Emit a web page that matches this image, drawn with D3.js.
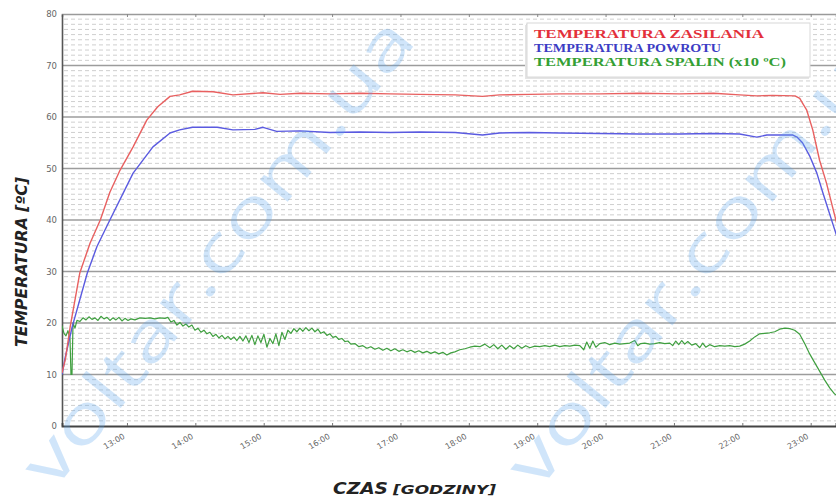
<!DOCTYPE html>
<html>
<head>
<meta charset="utf-8">
<script src="https://cdn.jsdelivr.net/npm/d3@7"></script>
<style>
  html, body { margin: 0; padding: 0; background: #fff; }
  svg { display: block; }
</style>
</head>
<body>
<svg id="chart" width="836" height="497"></svg>
<script>
// ---------------- DATA ----------------
// time in decimal hours, values in °C (flue gas in x10 °C)
const supplyHours = [12.05,12.10,12.17,12.31,12.46,12.61,12.75,12.90,13.09,13.29,13.45,13.63,13.77,13.96,14.26,14.55,14.99,15.24,15.53,15.97,16.41,16.85,17.28,17.80,18.20,18.45,18.89,19.33,19.92,20.50,21.08,21.58,21.96,22.21,22.44,22.77,22.84,22.88,22.94,23.03,23.13,23.23,23.32,23.50];
const supplyTemp  = [10.3,13.0,19.3,29.7,35.5,40.0,45.4,49.7,54.2,59.4,62.0,64.0,64.3,65.0,64.9,64.3,64.7,64.4,64.6,64.5,64.6,64.5,64.4,64.3,64.0,64.3,64.4,64.5,64.5,64.6,64.5,64.6,64.3,64.1,64.2,64.1,63.6,62.7,61.4,57.5,51.6,47.2,42.5,33.0];

const returnHours = [12.05,12.10,12.20,12.42,12.56,12.75,13.09,13.38,13.63,13.77,13.96,14.32,14.55,14.87,14.99,15.19,15.53,15.97,16.41,16.85,17.28,17.80,18.20,18.45,18.89,19.33,19.92,20.50,21.08,21.58,21.96,22.21,22.36,22.74,22.80,22.88,22.99,23.09,23.18,23.32,23.50];
const returnTemp  = [10.0,13.5,19.3,29.7,34.8,40.0,49.1,54.2,56.9,57.5,58.0,58.0,57.5,57.6,58.0,57.2,57.3,57.0,57.1,57.0,57.1,57.0,56.5,56.9,57.0,56.9,56.8,56.7,56.7,56.8,56.7,56.1,56.5,56.5,56.1,55.0,52.3,49.1,45.2,39.4,32.0];

const flueHours = [12.050,12.079,12.108,12.137,12.167,12.181,12.196,12.211,12.240,12.269,12.313,12.357,12.401,12.444,12.488,12.532,12.576,12.620,12.664,12.708,12.751,12.795,12.839,12.883,12.927,12.971,13.015,13.058,13.117,13.190,13.263,13.336,13.409,13.482,13.556,13.599,13.643,13.687,13.731,13.775,13.819,13.863,13.906,13.950,13.994,14.038,14.082,14.126,14.170,14.213,14.257,14.301,14.345,14.389,14.433,14.477,14.520,14.564,14.608,14.652,14.696,14.740,14.784,14.827,14.871,14.915,14.959,15.003,15.047,15.091,15.135,15.178,15.222,15.266,15.310,15.354,15.398,15.442,15.485,15.529,15.573,15.617,15.661,15.705,15.749,15.792,15.836,15.880,15.924,15.968,16.012,16.056,16.099,16.143,16.187,16.231,16.275,16.333,16.392,16.450,16.509,16.567,16.626,16.684,16.743,16.801,16.860,16.918,16.977,17.035,17.094,17.152,17.211,17.269,17.327,17.386,17.444,17.503,17.561,17.620,17.678,17.737,17.795,17.868,17.942,18.015,18.088,18.161,18.234,18.307,18.365,18.424,18.482,18.541,18.599,18.658,18.716,18.775,18.833,18.892,18.965,19.038,19.111,19.184,19.257,19.330,19.404,19.477,19.550,19.623,19.681,19.725,19.769,19.813,19.857,19.915,19.988,20.061,20.135,20.208,20.281,20.354,20.427,20.471,20.515,20.573,20.646,20.719,20.792,20.865,20.939,20.982,21.026,21.070,21.114,21.158,21.202,21.260,21.319,21.377,21.421,21.465,21.523,21.596,21.670,21.743,21.816,21.889,21.962,22.035,22.108,22.181,22.254,22.327,22.401,22.474,22.547,22.620,22.693,22.766,22.839,22.912,22.985,23.058,23.132,23.205,23.278,23.351,23.497];
const flueTemp  = [19.5,18.0,17.5,18.5,17.0,10.0,10.0,20.0,19.0,20.5,20.3,21.0,20.6,21.2,20.7,21.0,20.5,21.3,20.8,21.1,20.5,21.0,20.6,21.1,20.4,20.9,20.5,20.8,20.6,21.0,20.9,21.0,20.8,21.0,20.9,21.1,20.2,20.5,19.6,20.1,19.4,19.8,19.2,19.6,18.6,19.0,18.2,18.6,17.9,18.2,17.4,17.8,17.1,17.6,16.9,17.4,16.8,17.3,16.6,17.4,16.5,17.5,16.2,17.6,15.8,17.5,16.2,17.8,15.3,17.0,16.0,17.9,15.6,18.2,16.8,18.6,18.0,18.9,18.3,19.0,18.4,19.1,18.5,19.0,18.3,18.8,18.0,18.3,17.6,17.9,17.2,17.4,16.8,17.0,16.4,16.5,15.9,16.0,15.4,15.6,15.1,15.4,14.9,15.2,14.7,15.1,14.6,15.0,14.5,14.8,14.4,14.7,14.3,14.6,14.2,14.5,14.1,14.4,14.0,14.3,13.8,14.2,14.4,14.8,15.0,15.3,15.5,15.4,15.9,15.2,15.8,15.0,15.7,14.9,15.6,15.0,15.7,15.1,15.6,15.2,15.5,15.4,15.6,15.4,15.7,15.4,15.6,15.5,15.7,15.6,14.8,16.3,15.1,16.5,15.3,16.0,16.2,15.8,16.1,15.9,16.0,16.1,16.6,15.6,16.0,16.1,15.9,16.0,16.2,16.0,16.1,15.6,16.5,15.8,16.6,15.9,16.4,15.7,16.0,15.2,16.1,15.3,15.8,15.4,15.6,15.5,15.6,15.4,15.5,15.9,16.5,17.3,17.9,18.0,18.1,18.3,18.8,19.0,18.9,18.6,17.8,16.0,14.0,12.3,10.6,8.9,7.4,6.2,5.0];

const yTicks = [0,10,20,30,40,50,60,70,80];
const xTickHours  = [13,14,15,16,17,18,19,20,21,22,23];
const xTickLabels = ["13:00","14:00","15:00","16:00","17:00","18:00","19:00","20:00","21:00","22:00","23:00"];
const legendLabels = ["TEMPERATURA ZASILANIA","TEMPERATURA POWROTU","TEMPERATURA SPALIN (x10 ºC)"];
const yTitle = "TEMPERATURA [ºC]";
const xTitleMain = "CZAS";
const xTitleSub = "[GODZINY]";
const watermark = "voltar.com.ua";

// ---------------- LAYOUT ----------------
const W = 836, H = 497;
const L = 62, T = 14, B = 426;
const svg = d3.select("#chart");

const x = d3.scaleLinear().domain([12.05, 23.37]).range([L, W]);
const y = d3.scaleLinear().domain([0, 80]).range([B, T]);

svg.append("defs").append("clipPath").attr("id", "plotclip")
  .append("rect").attr("x", L).attr("y", T - 2).attr("width", W - L).attr("height", B - T + 2);

// minor dashed grid
const minor = d3.range(1, 80).filter(v => v % 10 !== 0);
svg.append("g").selectAll("line").data(minor).join("line")
  .attr("x1", L + 2).attr("x2", W).attr("y1", d => y(d)).attr("y2", d => y(d))
  .attr("stroke", "#cfcfcf").attr("stroke-width", 1).attr("stroke-dasharray", "4 3");

// major grid
svg.append("g").selectAll("line").data(yTicks.filter(v => v > 0 && v < 80)).join("line")
  .attr("x1", L).attr("x2", W).attr("y1", d => y(d)).attr("y2", d => y(d))
  .attr("stroke", "#9c9c9c").attr("stroke-width", 1.6);

// top axis (frame + ticks)
const topAxis = svg.append("g").attr("transform", `translate(0,${T})`)
  .call(d3.axisTop(x).tickValues(xTickHours).tickSize(-3).tickFormat(""));
topAxis.select(".domain").attr("stroke", "#9a9a9a").attr("stroke-width", 1.6);
topAxis.selectAll(".tick line").attr("stroke", "#888");

// y axis
const yAxis = svg.append("g").attr("transform", `translate(${L},0)`)
  .call(d3.axisLeft(y).tickValues(yTicks).tickSize(0).tickPadding(5));
yAxis.select(".domain").attr("stroke", "#555").attr("stroke-width", 1.6);
yAxis.selectAll("text").attr("fill", "#666").attr("font-size", "8.5px")
  .attr("font-family", "DejaVu Sans, sans-serif");

// x axis
const xAxis = svg.append("g").attr("transform", `translate(0,${B})`)
  .call(d3.axisBottom(x).tickValues(xTickHours).tickFormat((d, i) => xTickLabels[i]).tickSize(-3).tickPadding(0));
xAxis.select(".domain").attr("stroke", "#444").attr("stroke-width", 1.8);
xAxis.selectAll(".tick line").attr("stroke", "#777");
xAxis.selectAll("text")
  .attr("y", 0).attr("dy", 0).attr("x", 0)
  .attr("transform", "translate(-2,12) rotate(-30)")
  .attr("text-anchor", "end")
  .attr("fill", "#666").attr("font-size", "8px")
  .attr("font-family", "DejaVu Sans, sans-serif");

// data lines
const plot = svg.append("g").attr("clip-path", "url(#plotclip)");
function series(hours, vals) { return hours.map((h, i) => [h, vals[i]]); }
const line = d3.line().x(d => x(d[0])).y(d => y(d[1]));
plot.append("path").datum(series(flueHours, flueTemp)).attr("d", line)
  .attr("fill", "none").attr("stroke", "#3f9f3f").attr("stroke-width", 1.2).attr("stroke-linejoin", "round");
plot.append("path").datum(series(returnHours, returnTemp)).attr("d", line)
  .attr("fill", "none").attr("stroke", "#5a5ae0").attr("stroke-width", 1.4).attr("stroke-linejoin", "round");
plot.append("path").datum(series(supplyHours, supplyTemp)).attr("d", line)
  .attr("fill", "none").attr("stroke", "#e86060").attr("stroke-width", 1.4).attr("stroke-linejoin", "round");

// legend
const lg = svg.append("g");
lg.append("rect").attr("x", 525).attr("y", 25).attr("width", 284).attr("height", 54).attr("fill", "#e4e4e4");
lg.append("rect").attr("x", 527).attr("y", 23).attr("width", 283).attr("height", 54)
  .attr("fill", "#fff").attr("stroke", "#d8d8d8").attr("stroke-width", 1);
const legendColors = ["#e3303a", "#3c3cc4", "#34a034"];
const legendLens = [230, 187, 252];
lg.selectAll("text").data(legendLabels).join("text")
  .attr("x", 534).attr("y", (d, i) => 38 + i * 14)
  .attr("fill", (d, i) => legendColors[i])
  .attr("font-family", "Liberation Serif, DejaVu Serif, serif")
  .attr("font-weight", "bold").attr("font-size", "12px")
  .attr("textLength", (d, i) => legendLens[i]).attr("lengthAdjust", "spacingAndGlyphs")
  .text(d => d);

// axis titles
svg.append("text").attr("transform", "translate(27,262) rotate(-90)")
  .attr("text-anchor", "middle")
  .attr("font-family", "DejaVu Sans, sans-serif").attr("font-style", "italic").attr("font-weight", "bold")
  .attr("font-size", "15px").attr("fill", "#222")
  .attr("textLength", 170).attr("lengthAdjust", "spacingAndGlyphs")
  .text(yTitle);
svg.append("text").attr("x", 333).attr("y", 494)
  .attr("font-family", "DejaVu Sans, sans-serif").attr("font-style", "italic").attr("font-weight", "bold")
  .attr("font-size", "16px").attr("fill", "#222")
  .attr("textLength", 55).attr("lengthAdjust", "spacingAndGlyphs")
  .text(xTitleMain);
svg.append("text").attr("x", 393).attr("y", 494)
  .attr("font-family", "DejaVu Sans, sans-serif").attr("font-style", "italic").attr("font-weight", "bold")
  .attr("font-size", "12px").attr("fill", "#222")
  .attr("textLength", 103).attr("lengthAdjust", "spacingAndGlyphs")
  .text(xTitleSub);

// watermark
const wm = [[215, 250], [700, 250]];
svg.append("g").selectAll("text").data(wm).join("text")
  .attr("transform", d => `translate(${d[0]},${d[1]}) rotate(-51)`)
  .attr("text-anchor", "middle").attr("dominant-baseline", "central")
  .attr("font-family", "Open Sans, DejaVu Sans, sans-serif")
  .attr("font-size", "66px").attr("fill", "#5aa6ee").attr("opacity", 0.28)
  .attr("textLength", 580).attr("lengthAdjust", "spacingAndGlyphs")
  .text(watermark);
</script>
</body>
</html>
